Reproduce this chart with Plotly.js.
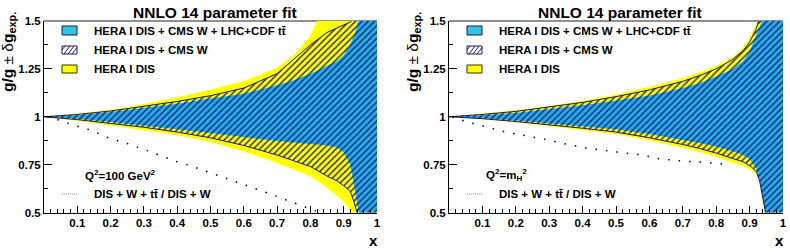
<!DOCTYPE html>
<html>
<head>
<meta charset="utf-8">
<script src="https://cdn.plot.ly/plotly-3.0.1.min.js"></script>
<style>html,body{margin:0;padding:0;background:#fff;} #plot{width:790px;height:252px;}</style>
</head>
<body>
<div id="plot"></div>
<script>
// ---------- data ----------
const xGrid = [0, 0.05, 0.1, 0.2, 0.3, 0.4, 0.5, 0.6, 0.7, 0.75, 0.8, 0.85, 0.88, 0.9, 0.92, 0.93, 0.94, 0.95, 0.97, 1.0];

// Left panel: Q^2 = 100 GeV^2
const L_disUp   = [1, 1.007, 1.015, 1.035, 1.065, 1.10, 1.14, 1.185, 1.255, 1.32, 1.42, 1.62, 1.7, 1.7, 1.7, 1.7, 1.7, 1.7, 1.7, 1.7];
const L_disLo   = [1, 0.99, 0.98, 0.955, 0.93, 0.905, 0.87, 0.82, 0.76, 0.725, 0.69, 0.63, 0.59, 0.56, 0.51, 0.48, 0.40, 0.30, 0.30, 0.30];
const L_wUp     = [1, 1.005, 1.012, 1.03, 1.055, 1.08, 1.11, 1.15, 1.225, 1.30, 1.375, 1.44, 1.465, 1.48, 1.495, 1.51, 1.56, 1.65, 1.7, 1.7];
const L_wLo     = [1, 0.993, 0.985, 0.965, 0.945, 0.92, 0.89, 0.85, 0.80, 0.77, 0.74, 0.69, 0.665, 0.64, 0.61, 0.56, 0.50, 0.40, 0.30, 0.30];
const L_ttUp    = [1, 1.004, 1.008, 1.025, 1.045, 1.068, 1.095, 1.12, 1.165, 1.19, 1.225, 1.265, 1.29, 1.32, 1.38, 1.42, 1.47, 1.55, 1.7, 1.7];
const L_ttLo    = [1, 0.996, 0.99, 0.972, 0.955, 0.935, 0.915, 0.893, 0.873, 0.865, 0.857, 0.85, 0.84, 0.815, 0.75, 0.64, 0.54, 0.45, 0.30, 0.30];
const L_ratioX  = [0.01, 0.05, 0.1, 0.14, 0.2, 0.25, 0.3, 0.36, 0.4, 0.43, 0.48, 0.575, 0.63, 0.69, 0.76, 0.82];
const L_ratioY  = [1.0, 0.98, 0.95, 0.93, 0.885, 0.86, 0.83, 0.79, 0.765, 0.75, 0.72, 0.66, 0.63, 0.59, 0.544, 0.505];

// Right panel: Q^2 = m_H^2
const R_disUp   = [1, 1.007, 1.015, 1.033, 1.055, 1.082, 1.115, 1.155, 1.20, 1.23, 1.265, 1.31, 1.36, 1.41, 1.48, 1.53, 1.6, 1.7, 1.7, 1.7];
const R_disLo   = [1, 0.994, 0.988, 0.972, 0.952, 0.932, 0.91, 0.877, 0.84, 0.817, 0.792, 0.76, 0.745, 0.725, 0.705, 0.66, 0.56, 0.43, 0.30, 0.30];
const R_wUp     = [1, 1.005, 1.012, 1.028, 1.05, 1.075, 1.105, 1.14, 1.185, 1.215, 1.25, 1.30, 1.345, 1.39, 1.46, 1.51, 1.58, 1.7, 1.7, 1.7];
const R_wLo     = [1, 0.995, 0.99, 0.975, 0.958, 0.94, 0.92, 0.89, 0.855, 0.835, 0.81, 0.78, 0.765, 0.745, 0.715, 0.665, 0.565, 0.44, 0.30, 0.30];
const R_ttUp    = [1, 1.004, 1.008, 1.02, 1.04, 1.06, 1.085, 1.11, 1.15, 1.175, 1.21, 1.25, 1.29, 1.34, 1.43, 1.47, 1.51, 1.6, 1.7, 1.7];
const R_ttLo    = [1, 0.997, 0.992, 0.98, 0.965, 0.95, 0.935, 0.91, 0.88, 0.863, 0.845, 0.82, 0.80, 0.78, 0.73, 0.67, 0.57, 0.45, 0.30, 0.30];
const R_ratioX  = [0.01, 0.05, 0.17, 0.28, 0.33, 0.40, 0.44, 0.48, 0.53, 0.58, 0.63, 0.69, 0.76, 0.83];
const R_ratioY  = [1.0, 0.975, 0.92, 0.885, 0.865, 0.84, 0.83, 0.82, 0.81, 0.80, 0.78, 0.77, 0.76, 0.753];

const xTickVals = [0.1, 0.2, 0.3, 0.4, 0.5, 0.6, 0.7, 0.8, 0.9, 1];
const xTickText = ['0.1', '0.2', '0.3', '0.4', '0.5', '0.6', '0.7', '0.8', '0.9', '1'];
const yTickVals = [0.5, 0.75, 1, 1.25, 1.5];
const yTickText = ['0.5', '0.75', '1', '1.25', '1.5'];

const legendLabels = ['HERA I DIS + CMS W + LHC+CDF t\u0074\u0304', 'HERA I DIS + CMS W', 'HERA I DIS'];
const panelTitle = 'NNLO 14 parameter fit';
const scaleLabels = ['Q<sup>2</sup>=100 GeV<sup>2</sup>', 'Q<sup>2</sup>=m<sub>H</sub><sup>2</sup>'];
const ratioLabel = 'DIS + W + t\u0074\u0304 / DIS + W';

// ---------- style ----------
const YEL = '#ffff00';
const BLUE = '#22aee8';
const NAVY = '#1a1a70';
const FONT = 'Liberation Sans, Arial, Helvetica, sans-serif';
const W = 790, H = 252;
const px = v => v / W;
const py = v => 1 - v / H;

function bandTraces(xa, ya, lo, up, kind) {
  const common = {x: xGrid, xaxis: xa, yaxis: ya, mode: 'lines', showlegend: false, hoverinfo: 'skip'};
  if (kind === 'dis') {
    return [
      Object.assign({}, common, {y: lo, line: {color: YEL, width: 0.5}}),
      Object.assign({}, common, {y: up, fill: 'tonexty', fillcolor: YEL, line: {color: YEL, width: 0.5}})
    ];
  } else if (kind === 'tt') {
    return [
      Object.assign({}, common, {y: lo, line: {color: BLUE, width: 0}}),
      Object.assign({}, common, {y: up, fill: 'tonexty', fillcolor: BLUE, line: {color: BLUE, width: 0}})
    ];
  } else {
    return [
      Object.assign({}, common, {y: lo, line: {color: NAVY, width: 1}}),
      Object.assign({}, common, {y: up, fill: 'tonexty', fillcolor: 'rgba(0,0,0,0)',
        fillpattern: {shape: '/', fgcolor: NAVY, size: 4.5, solidity: 0.3},
        line: {color: NAVY, width: 1}})
    ];
  }
}

const data = [].concat(
  bandTraces('x', 'y', L_disLo, L_disUp, 'dis'),
  bandTraces('x', 'y', L_ttLo, L_ttUp, 'tt'),
  bandTraces('x', 'y', L_wLo, L_wUp, 'w'),
  [{x: L_ratioX, y: L_ratioY, xaxis: 'x', yaxis: 'y', mode: 'lines', showlegend: false, hoverinfo: 'skip',
    line: {color: '#000', width: 1.5, dash: '1.5px,9px'}}],
  bandTraces('x2', 'y2', R_disLo, R_disUp, 'dis'),
  bandTraces('x2', 'y2', R_ttLo, R_ttUp, 'tt'),
  bandTraces('x2', 'y2', R_wLo, R_wUp, 'w'),
  [{x: R_ratioX, y: R_ratioY, xaxis: 'x2', yaxis: 'y2', mode: 'lines', showlegend: false, hoverinfo: 'skip',
    line: {color: '#000', width: 1.5, dash: '1.5px,9px'}}]
);

const tickFont = {family: FONT, size: 11.5, color: '#000', weight: 'bold'};
function xAxis(dom, anchor) {
  return {domain: dom, anchor: anchor, range: [0, 1], tickvals: xTickVals, ticktext: xTickText,
    ticks: 'inside', ticklen: 7, tickwidth: 1, tickcolor: '#000',
    minor: {dtick: 0.02, tick0: 0, ticks: 'inside', ticklen: 3.5, tickwidth: 1, tickcolor: '#000'},
    showline: true, linecolor: '#000', linewidth: 1, showgrid: false, zeroline: false,
    tickfont: tickFont, automargin: false, fixedrange: true};
}
function yAxis(anchor) {
  return {domain: [39.5 / H, 1 - 21 / H], anchor: anchor, range: [0.5, 1.5], tickvals: yTickVals, ticktext: yTickText,
    ticks: 'inside', ticklen: 8, tickwidth: 1, tickcolor: '#000',
    minor: {dtick: 0.125, tick0: 0.5, ticks: 'inside', ticklen: 4, tickwidth: 1, tickcolor: '#000'},
    showline: true, linecolor: '#000', linewidth: 1, showgrid: false, zeroline: false,
    tickfont: tickFont, automargin: false, fixedrange: true};
}

const boldFont = (s) => ({family: FONT, size: s, color: '#000', weight: 'bold'});
const annotations = [];
const shapes = [];
const panels = [
  {x0: 44, x1: 377, scale: scaleLabels[0], ytx: 9, xa: 'x', ya: 'y'},
  {x0: 449, x1: 783, scale: scaleLabels[1], ytx: 414, xa: 'x2', ya: 'y2'}
];
panels.forEach((p, i) => {
  const lx = p.x0 + 18, tx = p.x0 + 48;
  // top frame line (under the bands)
  shapes.push({type: 'line', xref: p.xa + ' domain', yref: p.ya + ' domain', x0: 0, x1: 1, y0: 1, y1: 1,
    layer: 'below', line: {color: '#222', width: 1}});
  // title
  annotations.push({xref: 'paper', yref: 'paper', x: px((p.x0 + p.x1) / 2 + 4), y: py(12), text: panelTitle,
    showarrow: false, xanchor: 'center', yanchor: 'middle', font: boldFont(15.5)});
  // y title
  annotations.push({xref: 'paper', yref: 'paper', x: px(p.ytx), y: py(52), textangle: -90,
    text: '<b>g/g</b> ± δ<b>g</b><sub><b>exp.</b></sub>',
    showarrow: false, xanchor: 'center', yanchor: 'middle', font: {family: FONT, size: 15.5, color: '#000'}});
  // x title
  annotations.push({xref: 'paper', yref: 'paper', x: px(p.x1 - 4), y: py(240), text: 'x',
    showarrow: false, xanchor: 'center', yanchor: 'middle', font: boldFont(15)});
  // legend
  const rows = [31, 50, 69];
  legendLabels.forEach((lab, k) => {
    annotations.push({xref: 'paper', yref: 'paper', x: px(tx), y: py(rows[k]), text: lab,
      showarrow: false, xanchor: 'left', yanchor: 'middle', font: boldFont(11.5)});
  });
  const bx0 = lx, bx1 = lx + 15;
  shapes.push({type: 'rect', xref: 'paper', yref: 'paper', x0: px(bx0), x1: px(bx1), y0: py(35), y1: py(26),
    fillcolor: '#35c3e3', line: {color: '#1a1a50', width: 1}});
  shapes.push({type: 'rect', xref: 'paper', yref: 'paper', x0: px(bx0), x1: px(bx1), y0: py(54), y1: py(46),
    fillcolor: '#ffffff', line: {color: NAVY, width: 1}});
  [[0, 50, 3, 46], [2, 54, 8, 46], [6, 54, 12, 46], [10, 54, 15, 47.5]].forEach(s => {
    shapes.push({type: 'line', xref: 'paper', yref: 'paper', x0: px(bx0 + s[0]), y0: py(s[1]), x1: px(bx0 + s[2]), y1: py(s[3]),
      line: {color: NAVY, width: 1}});
  });
  shapes.push({type: 'rect', xref: 'paper', yref: 'paper', x0: px(bx0), x1: px(bx1), y0: py(73), y1: py(65),
    fillcolor: YEL, line: {color: '#333300', width: 1}});
  // Q^2 label
  annotations.push({xref: 'paper', yref: 'paper', x: px(p.x0 + (i === 0 ? 39 : 35)), y: py(175), text: p.scale,
    showarrow: false, xanchor: 'left', yanchor: 'middle', font: boldFont(11.5)});
  // ratio legend
  shapes.push({type: 'line', xref: 'paper', yref: 'paper', x0: px(lx), x1: px(lx + 15), y0: py(194), y1: py(194),
    line: {color: '#888', width: 1, dash: '1px,1px'}});
  annotations.push({xref: 'paper', yref: 'paper', x: px(tx), y: py(194), text: ratioLabel,
    showarrow: false, xanchor: 'left', yanchor: 'middle', font: boldFont(11.5)});
});

const layout = {
  width: W, height: H,
  margin: {l: 0, r: 0, t: 0, b: 0},
  paper_bgcolor: '#fff', plot_bgcolor: 'rgba(0,0,0,0)',
  showlegend: false,
  xaxis: xAxis([44 / W, 377 / W], 'y'),
  yaxis: yAxis('x'),
  xaxis2: xAxis([449 / W, 783 / W], 'y2'),
  yaxis2: yAxis('x2'),
  annotations: annotations,
  shapes: shapes
};

Plotly.newPlot('plot', data, layout, {displayModeBar: false, staticPlot: true});
</script>
</body>
</html>
